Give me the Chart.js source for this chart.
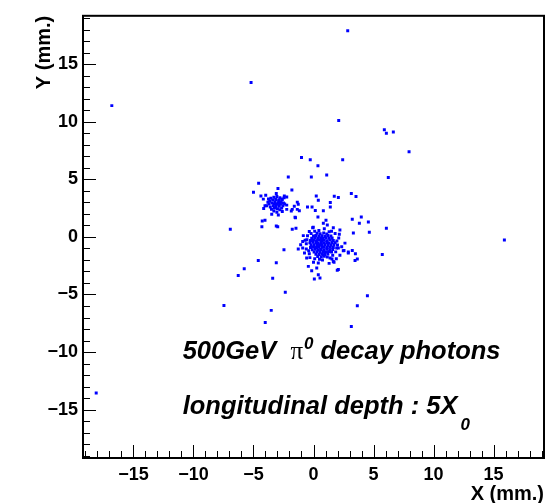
<!DOCTYPE html>
<html>
<head>
<meta charset="utf-8">
<script src="https://cdn.jsdelivr.net/npm/chart.js@4.4.0/dist/chart.umd.min.js"></script>
<style>
  html, body { margin: 0; padding: 0; background: #fff; }
</style>
</head>
<body>
<canvas id="c" width="558" height="503"></canvas>
<script>
// axis setup (mm)
const axisMin = -19.2;
const axisMax = 19.2;
const majorTicks = [-15, -10, -5, 0, 5, 10, 15];

// isolated hits
const sparsePoints = [
  [2.85, 17.9], [-5.2, 13.4], [-16.8, 11.4], [2.1, 10.1], [5.9, 9.3], [6.07, 9.0], [6.65, 9.1],
  [7.96, 7.4], [-1.0, 6.9], [-0.27, 6.7], [2.43, 6.7], [0.37, 6.18], [1.1, 5.37], [6.23, 5.15],
  [-2.1, 5.2], [-0.18, 5.2], [-4.57, 4.66], [-5.0, 3.88], [-1.8, 4.08], [-2.96, 4.2], [0.23, 3.56],
  [0.4, 3.19], [1.73, 3.53], [2.07, 3.42], [3.15, 3.77], [3.54, 3.5], [1.4, 2.99], [1.4, 2.59],
  [0.82, 2.27], [-1.35, 3.02], [-1.27, 2.84], [-0.5, 2.6], [-0.12, 2.6], [0.15, 2.3], [-1.85, 2.24],
  [-1.35, 2.39], [-1.18, 2.27], [-1.5, 1.66], [0.37, 1.72], [3.98, 1.72], [1.04, 1.44], [3.23, 1.53],
  [4.57, 1.29], [3.82, 1.18], [-4.27, 1.38], [-4.04, 1.44], [-4.3, 0.89], [-3.1, 0.95], [-2.98, 0.89],
  [-6.93, 0.66], [-1.77, 0.66], [6.07, 0.75], [4.65, 0.4], [3.32, 0.34], [15.9, -0.26],
  [-7.46, -5.95], [-4.02, -7.44], [3.15, -7.78], [3.65, -5.97], [4.49, -5.11], [-18.1, -13.56],
  [-2.46, -1.12], [-4.6, -2.04], [-3.1, -2.24], [-5.77, -2.76], [-6.27, -3.36], [-3.4, -3.59],
  [-2.35, -4.8], [-3.52, -6.38], [5.73, -1.52], [0.54, -3.56], [0.07, -3.65], [0.4, -3.28], [1.98, -2.9]
];

// second photon, around (-3, 2.9)
const clusterA = [
  [-4.38, 3.56], [-3.98, 3.62], [-3.1, 3.77], [-2.43, 3.56], [-2.23, 3.47], [-4.18, 3.28], [-2.65, 3.3],
  [-4.04, 2.7], [-2.23, 2.76], [-1.6, 2.67], [-4.15, 2.47], [-2.23, 2.39], [-1.77, 2.39], [-3.48, 1.96],
  [-2.93, 1.9], [-1.54, 1.7], [-1.46, 0.75],
  [-3.55, 3.35], [-3.3, 3.45], [-3.05, 3.5], [-2.8, 3.4], [-2.6, 3.25],
  [-3.65, 3.1], [-3.4, 3.2], [-3.15, 3.25], [-2.9, 3.2], [-2.7, 3.05], [-2.5, 2.95],
  [-3.7, 2.85], [-3.45, 2.95], [-3.2, 3.0], [-2.95, 2.95], [-2.75, 2.85], [-2.55, 2.7],
  [-3.6, 2.6], [-3.35, 2.7], [-3.1, 2.75], [-2.85, 2.65], [-2.65, 2.5],
  [-3.5, 2.4], [-3.25, 2.5], [-3.0, 2.45], [-2.8, 2.35],
  [-3.3, 2.25], [-3.05, 2.15], [-2.6, 2.2], [-3.8, 3.0], [-3.0, 2.85], [-3.25, 2.85], [-2.9, 3.05],
  [-3.15, 2.6], [-2.4, 2.85], [-3.9, 2.7], [-2.45, 3.4], [-3.75, 3.3]
];

// first photon, around (0.7, -0.7)
const clusterB = [
  [0.82, 1.18], [1.15, 1.03], [1.65, 0.8], [-0.07, 0.8], [-0.35, 0.46], [2.2, 0.6], [2.15, 0.23],
  [-0.85, 0.11], [-1.07, -0.69], [-1.27, -1.06], [-0.9, -0.97], [2.48, -1.2], [2.9, -1.32],
  [2.62, -0.54], [2.07, -0.97], [-0.57, -1.84], [-0.43, -2.56], [0.4, -2.27], [0.27, -2.7],
  [1.65, -2.13], [2.07, -2.84], [-0.15, -2.93], [1.38, -1.84], [0.82, -1.55], [1.93, -0.97],
  [2.54, -1.18], [2.9, -1.41], [3.23, -1.18], [3.49, -1.47], [3.65, -1.92], [3.46, -2.04],
  [1.54, -1.92], [1.71, -2.21], [-0.35, -1.47], [-0.02, 0.84],
  [0.3, 0.32], [0.55, 0.27], [0.85, 0.34], [1.1, 0.26],
  [0.0, 0.08], [0.2, 0.13], [0.45, 0.06], [0.7, 0.11], [0.95, 0.04], [1.2, 0.12], [1.45, 0.07],
  [-0.15, -0.12], [0.1, -0.08], [0.35, -0.13], [0.6, -0.09], [0.8, -0.14], [1.05, -0.07], [1.3, -0.12], [1.55, -0.1],
  [-0.25, -0.31], [0.0, -0.28], [0.25, -0.33], [0.5, -0.27], [0.7, -0.32], [0.9, -0.29], [1.15, -0.33], [1.4, -0.27], [1.65, -0.31],
  [-0.3, -0.52], [-0.05, -0.47], [0.2, -0.51], [0.4, -0.53], [0.65, -0.48], [0.85, -0.52], [1.1, -0.49], [1.3, -0.54], [1.55, -0.48], [1.8, -0.51],
  [-0.2, -0.71], [0.05, -0.68], [0.3, -0.73], [0.5, -0.69], [0.7, -0.72], [0.95, -0.67], [1.2, -0.73], [1.45, -0.7], [1.7, -0.68],
  [-0.25, -0.92], [0.0, -0.88], [0.25, -0.93], [0.45, -0.89], [0.7, -0.91], [0.9, -0.87], [1.15, -0.92], [1.4, -0.9], [1.65, -0.93],
  [-0.1, -1.11], [0.15, -1.08], [0.4, -1.13], [0.6, -1.09], [0.85, -1.12], [1.1, -1.07], [1.35, -1.12], [1.6, -1.1],
  [0.05, -1.31], [0.3, -1.28], [0.55, -1.33], [0.8, -1.29], [1.0, -1.32], [1.25, -1.28], [1.5, -1.31],
  [0.2, -1.5], [0.45, -1.53], [0.7, -1.48], [0.95, -1.52], [1.2, -1.49],
  [0.35, -1.7], [0.65, -1.72], [0.9, -1.68],
  [-0.55, -0.25], [1.95, -0.35], [0.1, 0.5], [1.3, 0.45], [-0.4, -1.2], [1.85, -1.3], [0.5, -1.95], [1.15, -1.75],
  [-0.6, -0.6], [-0.7, -0.3], [-0.5, 0.1], [-0.2, 0.3], [2.0, -0.7], [2.1, -0.1], [1.8, 0.3],
  [1.6, -1.6], [2.2, -1.6], [-0.3, -1.8], [0.1, -1.9], [-0.75, -1.4], [0.9, 0.7], [0.45, 0.55],
  [1.5, 0.5], [2.35, -0.85], [-0.6, -1.05], [1.9, -1.9], [0.75, -2.0], [1.3, -2.3], [0.0, -2.2], [-0.9, -0.4]
];

const allHits = sparsePoints.concat(clusterA, clusterB).map(p => ({ x: p[0], y: p[1] }));

const FONT = '"Liberation Sans", Arial, Helvetica, sans-serif';
const fmt = v => (v < 0 ? '\u2212' + Math.abs(v) : String(v));

// ROOT-like frame with inward major/minor ticks and TLatex labels
const rootFrame = {
  id: 'rootFrame',
  afterDatasetsDraw(chart) {
    const { ctx, chartArea: a, scales: { x, y } } = chart;
    ctx.save();
    ctx.strokeStyle = '#000';
    ctx.lineWidth = 1;
    for (let v = Math.ceil(axisMin); v <= axisMax; v++) {
      const len = v % 5 === 0 ? 13 : 7;
      const px = Math.round(x.getPixelForValue(v)) + 0.5;
      ctx.beginPath();
      ctx.moveTo(px, a.bottom);
      ctx.lineTo(px, a.bottom - len);
      ctx.stroke();
      const py = Math.round(y.getPixelForValue(v)) + 0.5;
      ctx.beginPath();
      ctx.moveTo(a.left, py);
      ctx.lineTo(a.left + len, py);
      ctx.stroke();
    }
    ctx.lineWidth = 2;
    ctx.strokeRect(a.left, a.top, a.right - a.left, a.bottom - a.top);
    ctx.restore();
  },
  afterDraw(chart) {
    const { ctx, chartArea: a, scales: { x, y } } = chart;
    ctx.save();
    ctx.fillStyle = '#000';
    // axis titles
    ctx.font = 'bold 20px ' + FONT;
    ctx.textAlign = 'right';
    ctx.textBaseline = 'alphabetic';
    ctx.fillText('X (mm.)', a.right, 500);
    ctx.save();
    ctx.translate(50, a.top);
    ctx.rotate(-Math.PI / 2);
    ctx.fillText('Y (mm.)', 0, 0);
    ctx.restore();

    // annotation lines
    ctx.textAlign = 'left';
    const big = 'italic bold 25.5px ' + FONT;
    const small = 'italic bold 17px ' + FONT;
    let tx = x.getPixelForValue(-10.9);
    let ty = y.getPixelForValue(-10.6);
    ctx.font = big;
    ctx.fillText('500GeV  ', tx, ty);
    tx += ctx.measureText('500GeV  ').width;
    ctx.font = '25px "Liberation Serif", "DejaVu Serif", serif';
    ctx.fillText('\u03c0', tx, ty);
    tx += ctx.measureText('\u03c0').width + 1;
    ctx.font = small;
    ctx.fillText('0', tx, ty - 10);
    tx += ctx.measureText('0').width;
    ctx.font = big;
    ctx.fillText(' decay photons', tx, ty);

    tx = x.getPixelForValue(-10.9);
    ty = y.getPixelForValue(-15.35);
    ctx.fillText('longitudinal depth : 5X', tx, ty);
    tx += ctx.measureText('longitudinal depth : 5X').width + 3;
    ctx.font = small;
    ctx.fillText('0', tx, ty + 16);
    ctx.restore();
  }
};

new Chart(document.getElementById('c'), {
  type: 'scatter',
  data: {
    datasets: [{
      label: 'hits',
      data: allHits,
      backgroundColor: '#0000ff',
      borderWidth: 0,
      pointStyle: 'rect',
      pointRadius: 2.1,
      pointHoverRadius: 2.1
    }]
  },
  options: {
    responsive: false,
    animation: false,
    devicePixelRatio: 1,
    layout: { padding: { top: 15, right: 14, left: 0, bottom: 0 } },
    plugins: { legend: { display: false }, tooltip: { enabled: false } },
    scales: {
      x: {
        type: 'linear',
        min: axisMin,
        max: axisMax,
        afterBuildTicks: s => { s.ticks = majorTicks.map(v => ({ value: v })); },
        afterFit: s => { s.height = 45; },
        grid: { display: false, drawTicks: false },
        border: { display: false },
        ticks: {
          padding: 6,
          color: '#000',
          font: { family: FONT, size: 18, weight: 'bold' },
          maxRotation: 0,
          callback: v => fmt(v)
        }
      },
      y: {
        type: 'linear',
        min: axisMin,
        max: axisMax,
        afterBuildTicks: s => { s.ticks = majorTicks.map(v => ({ value: v })); },
        afterFit: s => { s.width = 83; },
        grid: { display: false, drawTicks: false },
        border: { display: false },
        ticks: {
          padding: 5,
          color: '#000',
          font: { family: FONT, size: 18, weight: 'bold' },
          callback: v => fmt(v)
        }
      }
    }
  },
  plugins: [rootFrame]
});
</script>
</body>
</html>
